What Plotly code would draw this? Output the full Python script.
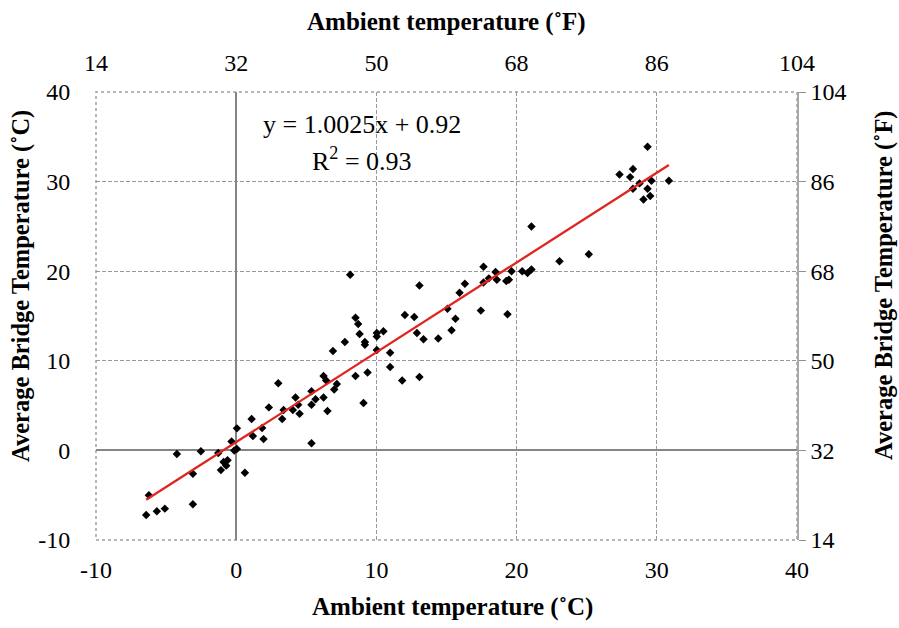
import plotly.graph_objects as go

# Ambient temperature (°C) and average bridge temperature (°C)
ambient_c = [-6.42, -6.23, -5.66, -5.09, -4.23, -3.09, -3.09, -2.52, -1.28, -1.09,
             -0.90, -0.71, -0.62, -0.33, -0.14, 0.05, 0.05, 0.62, 1.10, 1.19,
             1.85, 1.95, 2.33, 3.00, 3.28, 3.38, 4.04, 4.23, 4.42, 4.52,
             5.37, 5.37, 5.37, 5.66, 6.23, 6.23, 6.42, 6.51, 6.99, 7.18,
             6.90, 7.75, 8.13, 8.51, 8.70, 8.80, 8.51, 9.08, 9.18, 9.18,
             9.37, 10.03, 10.03, 10.03, 10.50, 10.98, 10.98, 11.84, 12.03, 12.70,
             13.07, 12.89, 13.07, 13.36, 14.41, 15.07, 15.36, 15.64, 15.93, 16.31,
             17.45, 17.64, 17.64, 18.02, 18.50, 18.59, 19.26, 19.45, 19.35, 19.64,
             20.40, 20.78, 21.06, 21.06, 23.06, 25.15, 27.34, 28.10, 28.30, 28.30,
             28.77, 29.05, 29.34, 29.34, 29.53, 29.62, 30.86]
bridge_c = [-7.2, -5.0, -6.8, -6.5, -0.4, -2.6, -6.0, -0.1, -0.3, -2.2,
            -1.3, -1.7, -1.1, 1.0, 0.0, 0.15, 2.46, -2.5, 3.5, 1.6,
            2.5, 1.26, 4.8, 7.5, 3.5, 4.5, 4.5, 5.9, 5.1, 4.1,
            6.6, 5.1, 0.8, 5.7, 8.3, 5.9, 7.8, 4.4, 6.8, 7.4,
            11.1, 12.1, 19.6, 14.8, 14.1, 13.0, 8.3, 5.3, 12.1, 11.8,
            8.7, 13.1, 12.7, 11.2, 13.3, 10.9, 9.3, 7.8, 15.1, 14.9,
            8.2, 13.1, 18.4, 12.4, 12.5, 15.8, 13.4, 14.7, 17.6, 18.6,
            15.6, 20.5, 18.75, 19.2, 19.9, 19.05, 18.9, 19.05, 15.2, 20.0,
            20.0, 19.8, 20.2, 25.0, 21.1, 21.9, 30.8, 30.5, 31.4, 29.2,
            29.8, 28.0, 33.9, 29.2, 28.4, 30.1, 30.1]

slope = 1.0025
intercept = 0.92
r_squared = 0.93

c_ticks = [-10, 0, 10, 20, 30, 40]
f_ticks = [14, 32, 50, 68, 86, 104]

FONT = "Liberation Serif"

fit_x = [min(ambient_c), max(ambient_c)]
fit_y = [slope * v + intercept for v in fit_x]

fig = go.Figure()
fig.add_trace(go.Scatter(x=ambient_c, y=bridge_c, mode="markers",
                         marker=dict(symbol="diamond", size=6.5, color="black"),
                         showlegend=False))
fig.add_trace(go.Scatter(x=fit_x, y=fit_y, mode="lines",
                         line=dict(color="#e02420", width=2.3), showlegend=False))
# invisible trace to activate secondary axes
fig.add_trace(go.Scatter(x=[14, 104], y=[14, 104], xaxis="x2", yaxis="y2",
                         mode="markers", marker=dict(opacity=0), showlegend=False,
                         hoverinfo="skip"))

tickfont = dict(family=FONT, size=24, color="black")
titlefont = dict(family=FONT, size=25, color="black", weight="bold")
vtitlefont = dict(family=FONT, size=24.5, color="black", weight="bold")

GRID = "#9a9a9a"

fig.update_layout(
    width=899, height=628,
    margin=dict(l=96, r=102, t=92, b=88),
    paper_bgcolor="white", plot_bgcolor="white",
    xaxis=dict(range=[-10, 40], tickvals=c_ticks, ticktext=[str(v) for v in c_ticks],
               showgrid=True, gridcolor=GRID, griddash="4px,2px", gridwidth=1,
               zeroline=True, zerolinecolor="#858585", zerolinewidth=1.5,
               ticks="outside", ticklen=8, tickcolor="rgba(0,0,0,0)",
               tickfont=tickfont, showline=False),
    yaxis=dict(range=[-10, 40], tickvals=c_ticks, ticktext=[str(v) for v in c_ticks],
               showgrid=True, gridcolor=GRID, griddash="4px,2px", gridwidth=1,
               zeroline=True, zerolinecolor="#858585", zerolinewidth=1.5,
               ticks="outside", ticklen=20, tickcolor="rgba(0,0,0,0)",
               tickfont=tickfont, showline=False),
    xaxis2=dict(range=[14, 104], tickvals=f_ticks, overlaying="x", side="top",
                showgrid=False, zeroline=False, ticks="outside", ticklen=10,
                tickcolor="rgba(0,0,0,0)", tickfont=tickfont),
    yaxis2=dict(range=[14, 104], tickvals=f_ticks, overlaying="y", side="right",
                showgrid=False, zeroline=False, ticks="outside", ticklen=7,
                tickcolor="#909090", tickfont=tickfont, showline=True,
                linecolor="#a8a8a8", linewidth=1.5),
    shapes=[dict(type="rect", xref="paper", yref="paper", x0=0, x1=1, y0=0, y1=1,
                 line=dict(color="#a0a0a0", width=1.5, dash="dot"), layer="below")],
    annotations=[
        dict(x=9.0, y=36.4, xref="x", yref="y", text=f"y = {slope}x + {intercept}",
             showarrow=False, font=dict(family=FONT, size=26, color="black")),
        dict(x=9.0, y=32.5, xref="x", yref="y", text=f"R<sup>2</sup> = {r_squared}",
             showarrow=False, font=dict(family=FONT, size=26, color="black")),
        dict(x=0.508, y=0, xref="paper", yref="paper", yshift=-67,
             text="Ambient temperature (˚C)", showarrow=False, font=titlefont,
             xanchor="center", yanchor="middle"),
        dict(x=0.5, y=1, xref="paper", yref="paper", yshift=70,
             text="Ambient temperature (˚F)", showarrow=False, font=titlefont,
             xanchor="center", yanchor="middle"),
        dict(x=0, y=0.567, xref="paper", yref="paper", xshift=-75, textangle=-90,
             text="Average Bridge Temperature (˚C)", showarrow=False, font=vtitlefont,
             xanchor="center", yanchor="middle"),
        dict(x=1, y=0.567, xref="paper", yref="paper", xshift=87, textangle=-90,
             text="Average Bridge Temperature (˚F)", showarrow=False, font=vtitlefont,
             xanchor="center", yanchor="middle"),
    ],
)

fig.write_html("out.html")
